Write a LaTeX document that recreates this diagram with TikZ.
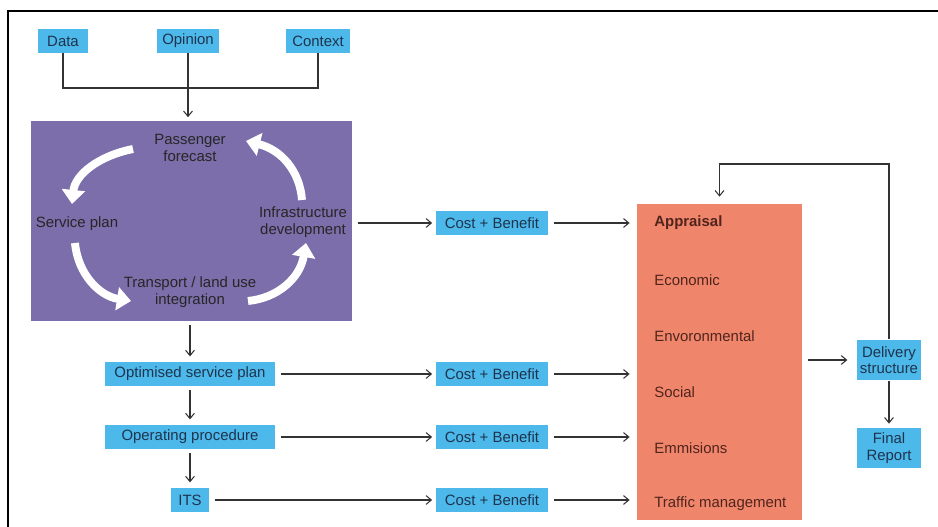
\documentclass[tikz,border=0pt]{standalone}
\usepackage{fontspec}
\setmainfont{Liberation Sans}
\usetikzlibrary{arrows.meta,positioning}
\definecolor{boxblue}{RGB}{77,184,234}
\definecolor{loopviolet}{RGB}{123,110,170}
\definecolor{appraisalred}{RGB}{239,134,108}
\definecolor{inkblue}{RGB}{30,52,78}
\definecolor{inkbrown}{RGB}{80,36,28}
\tikzset{%
  bluebox/.style={rectangle, fill=boxblue, text=inkblue,
    minimum height=0.48cm, inner sep=0pt, align=center,
    font=\fontsize{8.5}{9.4}\selectfont},
  costbox/.style={bluebox, minimum width=2.24cm},
  flow/.style={-{Straight Barb[length=3pt,width=5pt]}, draw=black!80,
    line width=0.6pt},
  plain line/.style={draw=black!80, line width=0.6pt},
  loop arrow/.style={-{Triangle[length=8pt,width=13pt]}, draw=white,
    line width=4.5pt},
  loop text/.style={text=black!85, align=center,
    font=\fontsize{8.5}{9.4}\selectfont},
  appr text/.style={anchor=west, text=inkbrown, inner sep=0pt,
    font=\fontsize{8.5}{9.4}\selectfont}
}
\begin{document}
\begin{tikzpicture}[x=0.02cm,y=-0.02cm]
\useasboundingbox (0,0) rectangle (938,527);
\draw[line width=1.2pt] (8,527) -- (8,11) -- (938,11);

% inputs
\node[bluebox, minimum width=1cm] (data) at (63,41) {Data};
\node[bluebox, minimum width=1.26cm] (opinion) at (188,41) {Opinion};
\node[bluebox, minimum width=1.3cm] (context) at (318,41) {Context};
\coordinate (merge) at (188,88);
\draw[plain line] (data.south) |- (merge) -| (context.south);

% planning cycle
\node[fill=loopviolet, minimum width=6.42cm, minimum height=4cm,
  inner sep=0pt] (cycle) at (191.5,221) {};
\draw[flow, shorten >=2pt] (opinion.south) -- (opinion.south |- cycle.north);
\node[loop text] (forecast) at (190,148) {Passenger\\forecast};
\node[loop text] (service) at (77,224) {Service plan};
\node[loop text] (infra) at (303,222) {Infrastructure\\development};
\node[loop text] (landuse) at (190,292) {Transport / land use\\integration};
\draw[loop arrow] (133,149) .. controls (98,156) and (75,175) .. (72,204);
\draw[loop arrow] (75,243) .. controls (78,275) and (100,296) .. (131,301);
\draw[loop arrow] (248,301) .. controls (278,298) and (300,278) .. (306,243);
\draw[loop arrow] (302,200) .. controls (300,172) and (282,150) .. (246,141);

% appraisal
\node[fill=appraisalred, minimum width=3.3cm, minimum height=6.32cm,
  inner sep=0pt] (appr) at (719.5,362) {};
\node[appr text, font=\fontsize{8.5}{9.4}\selectfont\bfseries] (apprhead) at (654,223) {Appraisal};
\node[appr text] (economic) at (654,280) {Economic};
\node[appr text] (environ) at (654,336) {Envoronmental};
\node[appr text] (social) at (654,392) {Social};
\node[appr text] (emission) at (654,448) {Emmisions};
\node[appr text] (traffic) at (654,504) {Traffic management};

% stages
\node[costbox] (costA) at (492,223) {Cost + Benefit};
\node[bluebox, minimum width=3.42cm] (optim) at (190,374) {Optimised service plan};
\node[costbox] (costB) at (492,374) {Cost + Benefit};
\node[bluebox, minimum width=3.42cm] (operat) at (190,437) {Operating procedure};
\node[costbox] (costC) at (492,437) {Cost + Benefit};
\node[bluebox, minimum width=0.76cm] (its) at (190,500) {ITS};
\node[costbox] (costD) at (492,500) {Cost + Benefit};

\draw[flow, shorten <=3pt, shorten >=2pt] (cycle.east |- costA.west) -- (costA.west);
\draw[flow, shorten <=3pt, shorten >=2pt] (optim) -- (costB);
\draw[flow, shorten <=3pt, shorten >=2pt] (operat) -- (costC);
\draw[flow, shorten <=3pt, shorten >=2pt] (its) -- (costD);
\foreach \c in {costA,costB,costC,costD}
  \draw[flow, shorten <=3pt, shorten >=4pt] (\c.east) -- (appr.west |- \c.east);

\draw[flow, shorten <=2pt, shorten >=3pt] (cycle.south -| optim.north) -- (optim.north);
\draw[flow, shorten <=2pt, shorten >=3pt] (optim) -- (operat);
\draw[flow, shorten <=2pt, shorten >=3pt] (operat) -- (its);

% delivery
\node[bluebox, minimum width=1.3cm, minimum height=0.82cm] (deliv) at (889,360) {Delivery\\structure};
\node[bluebox, minimum width=1.3cm, minimum height=0.82cm] (final) at (889,448) {Final\\Report};
\draw[flow, shorten <=3pt, shorten >=5pt] (appr.east |- deliv.west) -- (deliv.west);
\draw[flow, shorten >=2pt] (deliv) -- (final);
\coordinate (back) at (719.5,164);
\draw[flow, shorten >=4pt] (deliv.north) |- (back) -- (appr.north);
\end{tikzpicture}
\end{document}
